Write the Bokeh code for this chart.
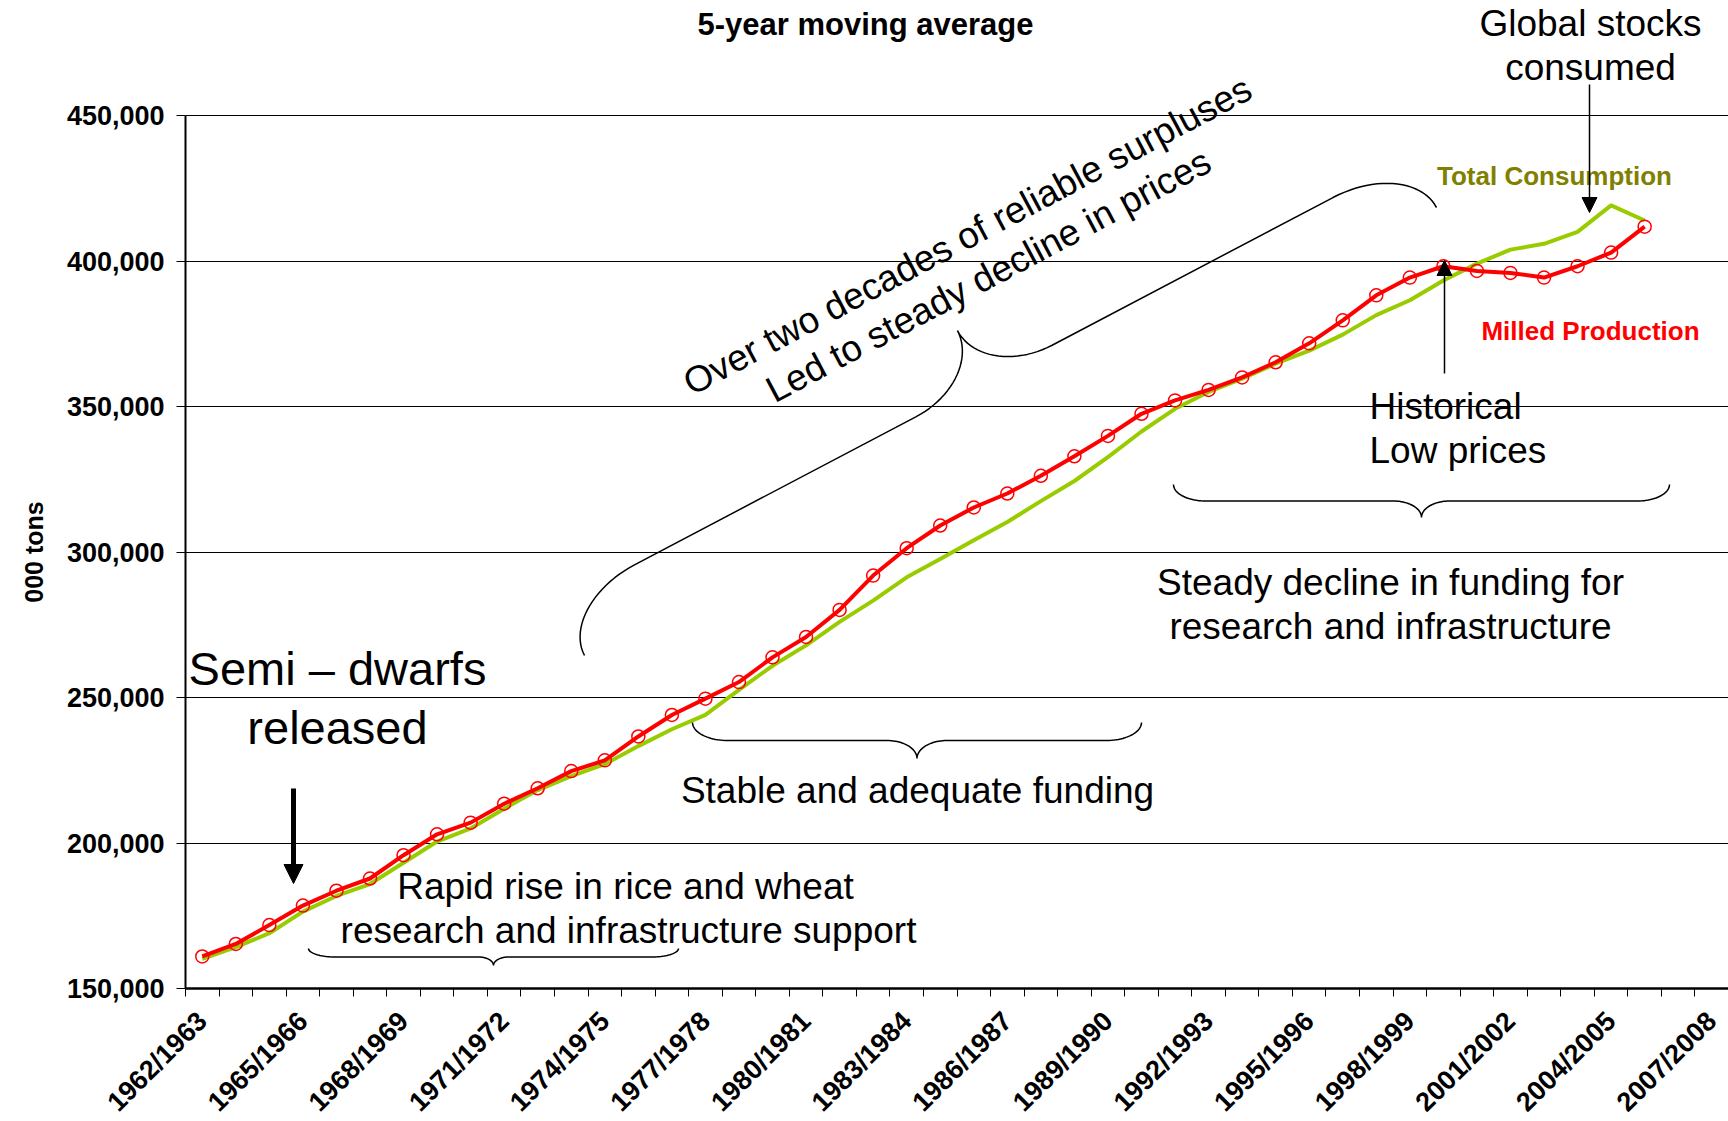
import numpy as np
from math import pi, radians
from bokeh.plotting import figure
from bokeh.models import (Range1d, FixedTicker, NumeralTickFormatter, Label,
                          Arrow, NormalHead, ColumnDataSource, Title)
from bokeh.embed import file_html
from bokeh.resources import INLINE

# ---------------- data ----------------
seasons = [
    "1962/1963", "1963/1964", "1964/1965", "1965/1966", "1966/1967", "1967/1968",
    "1968/1969", "1969/1970", "1970/1971", "1971/1972", "1972/1973", "1973/1974",
    "1974/1975", "1975/1976", "1976/1977", "1977/1978", "1978/1979", "1979/1980",
    "1980/1981", "1981/1982", "1982/1983", "1983/1984", "1984/1985", "1985/1986",
    "1986/1987", "1987/1988", "1988/1989", "1989/1990", "1990/1991", "1991/1992",
    "1992/1993", "1993/1994", "1994/1995", "1995/1996", "1996/1997", "1997/1998",
    "1998/1999", "1999/2000", "2000/2001", "2001/2002", "2002/2003", "2003/2004",
    "2004/2005", "2005/2006", "2006/2007", "2007/2008",
]
milled_production = [
    161000, 165300, 171800, 178500, 183600, 187800, 195800, 203000, 207000, 213500,
    218800, 224700, 228400, 236600, 244000, 249600, 255300, 263800, 270800, 280100,
    291900, 301300, 309100, 315300, 320100, 326200, 332900, 339900, 347500, 352100,
    355700, 360000, 365200, 371700, 379600, 388200, 394300, 398200, 396600, 395900,
    394300, 398200, 402900, 411800,
]
total_consumption = [
    160200, 164200, 169000, 176400, 181800, 185900, 193200, 200500, 205000, 211800,
    218200, 223000, 227100, 233300, 239100, 244000, 252600, 260900, 267900, 276000,
    283300, 291300, 297600, 304000, 310300, 317500, 324400, 332600, 341400, 349200,
    355000, 359600, 364700, 369200, 374700, 381400, 386500, 393300, 399100, 403900,
    405900, 410000, 419100, 413900,
]
y_ticks = [150000, 200000, 250000, 300000, 350000, 400000, 450000]
label_step = 3

# ---------------- layout ----------------
FL = 185          # left edge of plotting area (px)
TOP = 115         # pixel row of the top gridline (450,000)
FW, PH = 1543, 873  # width of plot area, height of the 150k..450k band
n_cat = len(seasons)
y_lo, y_hi = y_ticks[0], y_ticks[-1]
per_px = (y_hi - y_lo) / PH
y_top = y_hi + TOP * per_px   # frame reaches the top of the canvas so texts there are not clipped

# map page pixel positions of annotations into data space
def X(px):
    return (px - FL) / (FW / n_cat) - 0.5

def Y(py):
    return y_hi - (py - TOP) * per_px

FONT = "Liberation Sans"

p = figure(frame_width=FW, frame_height=PH + TOP,
           x_range=Range1d(-0.5, n_cat - 0.5), y_range=Range1d(y_lo, y_top),
           output_backend="svg", toolbar_location=None,
           min_border_left=FL, min_border_top=0, min_border_right=0,
           min_border_bottom=5)
p.outline_line_color = None
p.background_fill_color = "white"

# grid
p.xgrid.visible = False
p.ygrid.ticker = FixedTicker(ticks=y_ticks)
p.ygrid.grid_line_color = "black"
p.ygrid.grid_line_width = 1

# x axis
xa = p.xaxis[0]
xa.ticker = FixedTicker(ticks=list(range(0, n_cat, label_step)),
                        minor_ticks=[i - 0.5 for i in range(n_cat + 1)])
xa.major_label_overrides = {i: seasons[i] for i in range(0, n_cat, label_step)}
xa.major_tick_out = 0
xa.major_tick_in = 0
xa.minor_tick_out = 8
xa.minor_tick_in = 0
xa.minor_tick_line_color = "black"
xa.minor_tick_line_width = 1
xa.axis_line_color = "black"
xa.axis_line_width = 2.5
xa.major_label_orientation = pi / 4
xa.major_label_text_font = FONT
xa.major_label_text_font_style = "bold"
xa.major_label_text_font_size = "27px"
xa.major_label_text_color = "black"
xa.major_label_standoff = 20

# y axis
ya = p.yaxis[0]
ya.bounds = (y_lo, y_hi)
ya.ticker = FixedTicker(ticks=y_ticks)
ya.formatter = NumeralTickFormatter(format="0,0")
ya.major_tick_out = 9
ya.major_tick_in = 0
ya.major_tick_line_color = "black"
ya.major_tick_line_width = 1
ya.axis_line_color = "black"
ya.axis_line_width = 2
ya.major_label_text_font = FONT
ya.major_label_text_font_style = "bold"
ya.major_label_text_font_size = "27px"
ya.major_label_text_color = "black"
ya.major_label_standoff = 12

# y axis title, centred on the 150k..450k band (frame is taller than that band)
y_title = "000 tons"
y_title_size = 25
y_title_len = 4.06 * y_title_size          # approx. rendered length of the bold text
band_mid = TOP + PH / 2
p.add_layout(Title(text=y_title, align="left",
                   offset=(TOP + PH) - (band_mid + y_title_len / 2),
                   text_font=FONT, text_font_style="bold",
                   text_font_size=f"{y_title_size}px",
                   text_color="black", standoff=32), "left")

# ---------------- series ----------------
src = ColumnDataSource(dict(x=list(range(len(milled_production))),
                            prod=milled_production, cons=total_consumption))
p.line("x", "cons", source=src, line_color="#99CC00", line_width=4, line_join="round")
p.line("x", "prod", source=src, line_color="#FF0000", line_width=4, line_join="round")
p.scatter("x", "prod", source=src, marker="circle", size=13, fill_color=None,
          line_color="#FF0000", line_width=1.5)

# ---------------- annotations ----------------
def text(t, px, py, size, bold=False, color="black", align="center", angle=0.0):
    p.add_layout(Label(x=X(px), y=Y(py), text=t, text_font=FONT,
                       text_font_size=f"{size}px",
                       text_font_style="bold" if bold else "normal",
                       text_color=color, text_align=align,
                       text_baseline="middle", angle=angle))

def bez(p0, p1, p2, p3, n=24):
    t = np.linspace(0, 1, n)[:, None]
    return ((1 - t) ** 3) * p0 + 3 * ((1 - t) ** 2) * t * p1 + 3 * (1 - t) * t * t * p2 + t ** 3 * p3

def brace(ax, ay, bx, by, h, c1, c2, side=1):
    A = np.array([ax, ay], float)
    B = np.array([bx, by], float)
    L = np.linalg.norm(B - A)
    u = (B - A) / L
    nrm = side * np.array([-u[1], u[0]])
    m = L / 2
    half = np.vstack([
        bez(np.array([0, 0]), np.array([0, 0.55 * h]), np.array([0.45 * c1, h]), np.array([c1, h])),
        bez(np.array([m - c2, h]), np.array([m - 0.45 * c2, h]),
            np.array([m, 1.45 * h]), np.array([m, 2 * h])),
    ])
    other = half[::-1].copy()
    other[:, 0] = L - other[:, 0]
    loc = np.vstack([half, other])
    pts = A + loc[:, :1] * u + loc[:, 1:] * nrm
    p.line([X(v) for v in pts[:, 0]], [Y(v) for v in pts[:, 1]],
           line_color="black", line_width=1.5)

def arrow(x0, y0, x1, y1, lw, hs):
    p.add_layout(Arrow(end=NormalHead(size=hs, fill_color="black", line_color="black"),
                       x_start=X(x0), y_start=Y(y0), x_end=X(x1), y_end=Y(y1),
                       line_color="black", line_width=lw))

# title
text("5-year moving average", 865, 24, 31, bold=True)

# series labels
text("Total Consumption", 1554, 175, 26, bold=True, color="#808000")
text("Milled Production", 1590, 330, 26, bold=True, color="#FF0000")

# global stocks
text("Global stocks", 1590, 23, 37)
text("consumed", 1590, 67, 37)
arrow(1589, 84, 1589, 212, 1.5, 15)

# historical low prices
text("Historical", 1369, 406, 37, align="left")
text("Low prices", 1369, 450, 37, align="left")
arrow(1444, 373, 1444, 260, 1.5, 15)

# steady decline
brace(1173, 484, 1669, 484, 16.5, 32, 28, side=1)
text("Steady decline in funding for", 1390, 582, 37)
text("research and infrastructure", 1390, 626, 37)

# stable funding
brace(692, 722, 1141, 722, 18, 35, 30, side=1)
text("Stable and adequate funding", 917, 790, 37)

# semi-dwarfs
text("Semi \u2013 dwarfs", 337, 668, 47)
text("released", 337, 727, 47)
arrow(293, 788, 293, 883, 5, 19)

# rapid rise
text("Rapid rise in rice and wheat", 625, 886, 37)
text("research and infrastructure support", 628, 930, 37)
brace(308, 948, 678, 948, 8.5, 27, 15, side=1)

# two decades
ang = radians(28)
text("Over two decades of reliable surpluses", 967, 235, 37, angle=ang)
text("Led to steady decline in prices", 988, 275, 37, angle=ang)
brace(584, 655, 1436, 207, 57, 87, 77, side=-1)

open("out.html", "w").write(file_html(p, INLINE))
